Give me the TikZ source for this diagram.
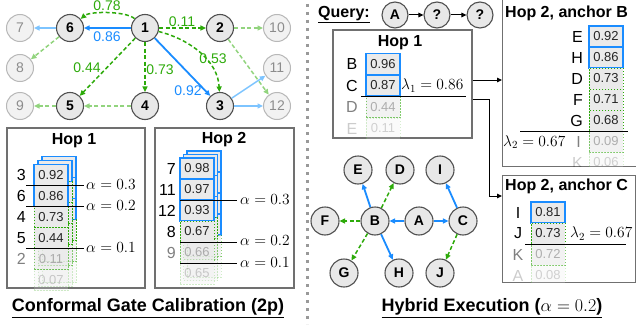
\RequirePackage{fix-cm}
\documentclass[tikz,border=0pt]{standalone}
\usepackage{fontspec}
\setmainfont{Liberation Sans}
\usetikzlibrary{arrows.meta}

\definecolor{eblue}{HTML}{1A8CFF}
\definecolor{egreen}{HTML}{2DAA0A}
\definecolor{lblue}{HTML}{7DC4FF}
\definecolor{lgreen}{HTML}{92D47E}
\definecolor{nfill}{HTML}{E8E8E8}
\definecolor{nline}{HTML}{505050}
\definecolor{cfill}{HTML}{EAEAEA}
\definecolor{pline}{HTML}{707070}
\definecolor{fadetext}{HTML}{808080}
\definecolor{sepgray}{HTML}{999999}

\newcommand\fsz[1]{\fontsize{#1}{#1}\selectfont}

% one layer of a stacked ranked list: left x, top y, number of blue cells
\newcommand\stacklayer[3]{%
  \foreach \k in {1,...,6}{%
    \pgfmathsetmacro\op{ifthenelse(\k<5,1,ifthenelse(\k==5,0.55,0.22))}%
    \ifnum\k>#3\relax
      \draw[gbox, opacity=\op] (#1,{#2+(\k-1)*21}) rectangle ++(34,21);
    \else
      \draw[bbox] (#1,{#2+(\k-1)*21}) rectangle ++(34,21);
    \fi
  }%
}

\tikzset{
  arrowend/.style={-{Triangle[length=5.5pt,width=5pt]}},
  gnode/.style={circle, draw=nline, line width=1.1pt, fill=nfill, minimum size=27pt,
    inner sep=0pt, font=\fsz{14}\bfseries},
  lnode/.style={circle, draw=black!28, line width=1pt, fill=black!5, minimum size=27pt,
    inner sep=0pt, font=\fsz{14}, text=black!45},
  bedge/.style={draw=eblue, line width=1.8pt, arrowend},
  gedge/.style={draw=egreen, line width=1.5pt, dash pattern=on 4pt off 2.5pt, arrowend},
  lbedge/.style={draw=lblue, line width=1.5pt, arrowend},
  lgedge/.style={draw=lgreen, line width=1.5pt, dash pattern=on 4pt off 2.5pt, arrowend},
  elab/.style={font=\fsz{14}, inner sep=0pt},
  panel/.style={draw=pline, line width=1.2pt, fill=white, inner sep=0pt},
  bbox/.style={draw=eblue, line width=1.2pt, fill=cfill},
  gbox/.style={draw=egreen, line width=1pt, dash pattern=on 1.5pt off 1.5pt, fill=cfill},
  bcell/.style={bbox, minimum width=34pt, minimum height=21pt, inner sep=0pt,
    font=\fsz{13}, text=black!85},
  gcell/.style={gbox, minimum width=34pt, minimum height=21pt, inner sep=0pt,
    font=\fsz{13}, text=black!85},
  rowlab/.style={font=\fsz{16}, inner sep=0pt},
  thr/.style={line width=1pt, black},
  mlab/.style={font=\fsz{15.5}, inner sep=0pt, anchor=west},
  title/.style={font=\fsz{16}\bfseries, inner sep=0pt},
  caption/.style={font=\fsz{18}\bfseries, inner sep=0pt},
  conn/.style={line width=1pt, black, -{Triangle[length=5pt,width=4.5pt]}},
}

\begin{document}
\begin{tikzpicture}[x=1pt,y=-1pt]
\useasboundingbox (0,0) rectangle (636,329);
\clip (0,0) rectangle (636,329);

% ---------------- left: two-hop graph ----------------
\node[lnode] (n7) at (20,28) {7};
\node[gnode] (n6) at (70,28) {6};
\node[gnode] (n1) at (145,28) {1};
\node[gnode] (n2) at (220,28) {2};
\node[lnode] (n10) at (277,28) {10};
\node[lnode] (n8) at (20,68) {8};
\node[lnode] (n11) at (277,68) {11};
\node[lnode] (n9) at (20,106) {9};
\node[gnode] (n5) at (70,106) {5};
\node[gnode] (n4) at (145,106) {4};
\node[gnode] (n3) at (220,106) {3};
\node[lnode] (n12) at (277,106) {12};

\draw[bedge] (n1) -- (n6);
\draw[gedge] (n1) .. controls (126,11) and (90,11) .. (n6);
\draw[gedge] (n1) -- (n2);
\draw[gedge] (n1) -- (n5);
\draw[gedge] (n1) -- (n4);
\draw[bedge] (n1) -- (n3);
\draw[gedge] (n1) .. controls (192,40) and (218,62) .. (n3);
\draw[lbedge] (n6) -- (n7);
\draw[lgedge] (n6) -- (n8);
\draw[lgedge] (n2) -- (n10);
\draw[lgedge] (n2) -- (n12);
\draw[lbedge] (n3) -- (n11);
\draw[lbedge] (n3) -- (n12);
\draw[lgedge] (n4) -- (n5);
\draw[lgedge] (n5) -- (n9);

\node[elab, text=egreen] (w16b) at (107,6) {0.78};
\node[elab, text=eblue] (w16a) at (107,37) {0.86};
\node[elab, text=egreen] (w12) at (182,22) {0.11};
\node[elab, text=egreen] (w15) at (87,68) {0.44};
\node[elab, text=egreen] (w14) at (160,70) {0.73};
\node[elab, text=egreen] (w13b) at (213,59) {0.53};
\node[elab, text=eblue] (w13a) at (188,91) {0.92};

% ---------------- left: calibration panels ----------------
\node[panel, minimum width=138pt, minimum height=160pt] (pa) at (76,208) {};
\node[panel, minimum width=139pt, minimum height=160pt] (pb) at (224.5,208) {};
\node[title] (pat) at (74,141) {Hop 1};
\node[title] (pbt) at (224,140) {Hop 2};

% Hop 1 stack
\stacklayer{42}{156.5}{3}
\stacklayer{38}{160.5}{1}
\node[bcell] (a1) at (51,175) {0.92};
\node[bcell] (a2) at (51,196) {0.86};
\node[gcell] (a3) at (51,217) {0.73};
\node[gcell] (a4) at (51,238) {0.44};
\node[gcell, opacity=.6, text=fadetext] (a5) at (51,259) {0.11};
\node[gcell, opacity=.22] (a6) at (51,280) {0.07};
\node[rowlab, anchor=east] (al1) at (26,175) {3};
\node[rowlab, anchor=east] (al2) at (26,196) {6};
\node[rowlab, anchor=east] (al3) at (26,217) {4};
\node[rowlab, anchor=east] (al4) at (26,238) {5};
\node[rowlab, anchor=east, text=fadetext] (al5) at (26,259) {2};
\draw[thr] (26,185.5) -- (84,185.5);
\draw[thr] (26,206.5) -- (84,206.5);
\draw[thr] (26,248.5) -- (84,248.5);
\node[mlab] (aa3) at (86,185) {$\alpha = 0.3$};
\node[mlab] (aa2) at (86,206) {$\alpha = 0.2$};
\node[mlab] (aa1) at (86,248) {$\alpha = 0.1$};

% Hop 2 stack
\stacklayer{187}{151}{4}
\stacklayer{183.5}{154.5}{3}
\node[bcell] (b1) at (197,168.5) {0.98};
\node[bcell] (b2) at (197,189.5) {0.97};
\node[bcell] (b3) at (197,210.5) {0.93};
\node[gcell] (b4) at (197,231.5) {0.67};
\node[gcell, opacity=.6, text=fadetext] (b5) at (197,252.5) {0.66};
\node[gcell, opacity=.22] (b6) at (197,273.5) {0.65};
\node[rowlab, anchor=east] (bl1) at (176,168.5) {7};
\node[rowlab, anchor=east] (bl2) at (176,189.5) {11};
\node[rowlab, anchor=east] (bl3) at (176,210.5) {12};
\node[rowlab, anchor=east] (bl4) at (176,231.5) {8};
\node[rowlab, anchor=east, text=fadetext] (bl5) at (176,252.5) {9};
\draw[thr] (180,200) -- (237,200);
\draw[thr] (180,242) -- (237,242);
\draw[thr] (180,263) -- (237,263);
\node[mlab] (ba3) at (240,200) {$\alpha = 0.3$};
\node[mlab] (ba2) at (240,241) {$\alpha = 0.2$};
\node[mlab] (ba1) at (240,263) {$\alpha = 0.1$};

\node[caption] (cap1) at (148,308) {\underline{Conformal Gate Calibration (2p)}};

% ---------------- separator ----------------
\draw[sepgray, line width=3pt, dash pattern=on 3pt off 5pt] (307,4) -- (307,324);

% ---------------- right: query ----------------
\node[font=\fsz{16}\bfseries, inner sep=0pt, anchor=west] (ql) at (318,15) {\underline{Query:}};
\node[gnode, minimum size=26pt] (qa) at (395,15) {A};
\node[gnode, minimum size=26pt] (qb) at (437,15) {?};
\node[gnode, minimum size=26pt] (qc) at (480,15) {?};
\draw[conn] (qa) -- (qb);
\draw[conn] (qb) -- (qc);

% Hop 1 table
\node[panel, minimum width=139pt, minimum height=108pt] (h1) at (402.5,84) {};
\node[title] (h1t) at (400,43) {Hop 1};
\begin{scope}
\clip (333,30) rectangle (472,138);
\node[bcell] (r1) at (383,64) {0.96};
\node[bcell] (r2) at (383,85.5) {0.87};
\node[gcell, opacity=.6, text=fadetext] (r3) at (383,107) {0.44};
\node[gcell, opacity=.2] (r4) at (383,128.5) {0.11};
\node[rowlab] (rl1) at (352,64) {B};
\node[rowlab] (rl2) at (352,85.5) {C};
\node[rowlab, text=fadetext] (rl3) at (352,107) {D};
\node[rowlab, opacity=.2] (rl4) at (352,128.5) {E};
\end{scope}
\draw[thr] (361,96.5) -- (466,96.5);
\node[mlab] (lam1) at (401,85.5) {$\lambda_1 = 0.86$};

% Hop 2 table, anchor B
\node[panel, minimum width=140pt, minimum height=168pt, anchor=north west] (hB) at (502,-2) {};
\node[title, anchor=west] (hBt) at (505,13) {Hop 2, anchor B};
\begin{scope}
\clip (502,-2) rectangle (642,166);
\node[bcell] (s1) at (606,36.5) {0.92};
\node[bcell] (s2) at (606,57.5) {0.86};
\node[gcell] (s3) at (606,78.5) {0.73};
\node[gcell] (s4) at (606,99.5) {0.71};
\node[gcell] (s5) at (606,120.5) {0.68};
\node[gcell, opacity=.6, text=fadetext] (s6) at (606,141.5) {0.09};
\node[gcell, opacity=.2] (s7) at (606,162.5) {0.06};
\node[rowlab, anchor=east] (sl1) at (583,36.5) {E};
\node[rowlab, anchor=east] (sl2) at (583,57.5) {H};
\node[rowlab, anchor=east] (sl3) at (583,78.5) {D};
\node[rowlab, anchor=east] (sl4) at (583,99.5) {F};
\node[rowlab, anchor=east] (sl5) at (583,120.5) {G};
\node[rowlab, anchor=east, text=fadetext] (sl6) at (581,141.5) {I};
\node[rowlab, anchor=east, opacity=.2] (sl7) at (583,162.5) {K};
\end{scope}
\draw[thr] (520,131) -- (628,131);
\node[mlab] (lam2b) at (503,142) {$\lambda_2 = 0.67$};

% Hop 2 table, anchor C
\node[panel, minimum width=133pt, minimum height=107pt, anchor=north west] (hC) at (502,175) {};
\node[title, anchor=west] (hCt) at (505,186) {Hop 2, anchor C};
\begin{scope}
\clip (502,175) rectangle (635,282);
\node[bcell] (t1) at (548,212.5) {0.81};
\node[gcell] (t2) at (548,233.5) {0.73};
\node[gcell, opacity=.6, text=fadetext] (t3) at (548,254.5) {0.72};
\node[gcell, opacity=.2] (t4) at (548,275.5) {0.08};
\node[rowlab] (tl1) at (518,212.5) {I};
\node[rowlab] (tl2) at (518,233.5) {J};
\node[rowlab, text=fadetext] (tl3) at (518,254.5) {K};
\node[rowlab, opacity=.2] (tl4) at (518,275.5) {A};
\end{scope}
\draw[thr] (525,244) -- (626,244);
\node[mlab] (lam2c) at (570,233.5) {$\lambda_2 = 0.67$};

% routing from hop 1 to the hop 2 tables
\draw[conn] (h1.east |- 0,80) -- (hB.west |- 0,80);
\draw[conn] (h1.east |- 0,99) -- (489,99) |- (hC.west |- 0,196);

% ---------------- right: execution graph ----------------
\node[gnode, minimum size=28pt] (gE) at (358,170) {E};
\node[gnode, minimum size=28pt] (gD) at (400,170) {D};
\node[gnode, minimum size=28pt] (gI) at (440,170) {I};
\node[gnode, minimum size=28pt] (gF) at (325,221) {F};
\node[gnode, minimum size=28pt] (gB) at (375,221) {B};
\node[gnode, minimum size=28pt] (gA) at (419,221) {A};
\node[gnode, minimum size=28pt] (gC) at (463,221) {C};
\node[gnode, minimum size=28pt] (gG) at (344,273) {G};
\node[gnode, minimum size=28pt] (gH) at (399,273) {H};
\node[gnode, minimum size=28pt] (gJ) at (440,273) {J};

\draw[bedge] (gA) -- (gB);
\draw[bedge] (gA) -- (gC);
\draw[bedge] (gB) -- (gE);
\draw[bedge] (gB) -- (gH);
\draw[bedge] (gC) -- (gI);
\draw[gedge] (gB) -- (gD);
\draw[gedge] (gB) -- (gF);
\draw[gedge] (gB) -- (gG);
\draw[gedge] (gC) -- (gJ);

\node[caption] (cap2) at (492,308) {\underline{Hybrid Execution ($\alpha = 0.2$)}};
\end{tikzpicture}
\end{document}
